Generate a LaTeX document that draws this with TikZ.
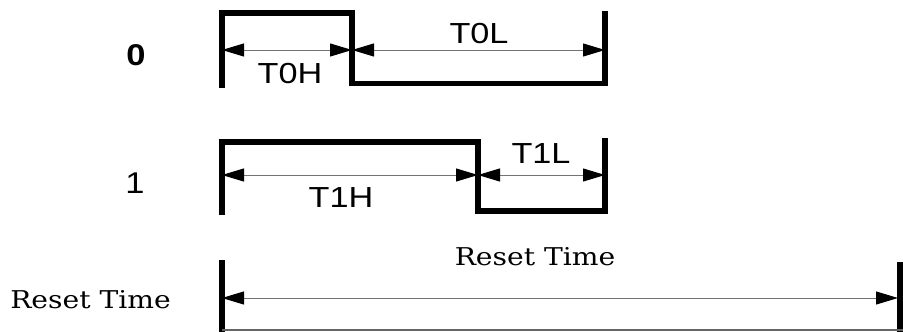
\documentclass[tikz,border=0pt]{standalone}
\usepackage{fontspec}
\setmainfont{Liberation Sans}
\newfontfamily\slabfont{DejaVu Serif}
\usetikzlibrary{arrows.meta}
\tikzset{
  wave/.style={line width=5.5pt, line cap=butt, line join=miter},
  dim/.style={draw=black!55, line width=1pt,
    {Triangle[length=22pt,width=13pt,color=black]}-{Triangle[length=22pt,width=13pt,color=black]}},
  tlabel/.style={anchor=base, inner sep=0pt, font=\fontsize{29}{30}\selectfont, xscale=1.18},
  rlabel/.style={anchor=base, inner sep=0pt, font=\slabfont\fontsize{24.5}{26}\selectfont, xscale=1.15},
  bitlabel/.style={anchor=base, inner sep=0pt, xscale=1.15}
}
\begin{document}
\begin{tikzpicture}[x=1pt,y=-1pt]
\useasboundingbox (0,0) rectangle (903,332);
% waveform 0
\coordinate (a0) at (222,88);
\coordinate (a1) at (222,13);
\coordinate (a2) at (352,13);
\coordinate (a3) at (352,83.5);
\coordinate (a4) at (605,83.5);
\coordinate (a5) at (605,11);
\draw[wave] (a0) -- (a1) -- (a2) -- (a3) -- (a4) -- (a5);
\coordinate (d0l) at (222,50);
\coordinate (d0m) at (352,50);
\coordinate (d0r) at (605,50);
\draw[dim] (d0l) -- (d0m);
\draw[dim] (d0m) -- (d0r);
\node[tlabel] (t0h) at (290,83) {T0H};
\node[tlabel] (t0l) at (479,43) {T0L};
\node[bitlabel, font=\bfseries\fontsize{30}{32}\selectfont] (b0) at (136,65) {0};
% waveform 1
\coordinate (c0) at (222,215);
\coordinate (c1) at (222,142);
\coordinate (c2) at (478,142);
\coordinate (c3) at (478,211);
\coordinate (c4) at (605,211);
\coordinate (c5) at (605,138);
\draw[wave] (c0) -- (c1) -- (c2) -- (c3) -- (c4) -- (c5);
\coordinate (d1l) at (222,175);
\coordinate (d1m) at (478,175);
\coordinate (d1r) at (605,175);
\draw[dim] (d1l) -- (d1m);
\draw[dim] (d1m) -- (d1r);
\node[tlabel] (t1h) at (341,207) {T1H};
\node[tlabel] (t1l) at (541,163) {T1L};
\node[bitlabel, font=\fontsize{30}{32}\selectfont] (b1) at (135,193) {1};
% reset
\coordinate (r0) at (222,260);
\coordinate (r1) at (222,332);
\coordinate (r2) at (900,262);
\coordinate (r3) at (900,332);
\draw[line width=5.5pt] (r0) -- (r1);
\draw[line width=5.5pt] (r2) -- (r3);
\coordinate (bl) at (222,330);
\coordinate (br) at (903,330);
\draw[black!60, line width=1.5pt] (bl) -- (br);
\coordinate (dl) at (222,298);
\coordinate (dr) at (898,298);
\draw[dim] (dl) -- (dr);
\node[rlabel] (rt) at (535,265) {Reset Time};
\node[rlabel] (rl) at (90.5,308) {Reset Time};
\end{tikzpicture}
\end{document}
